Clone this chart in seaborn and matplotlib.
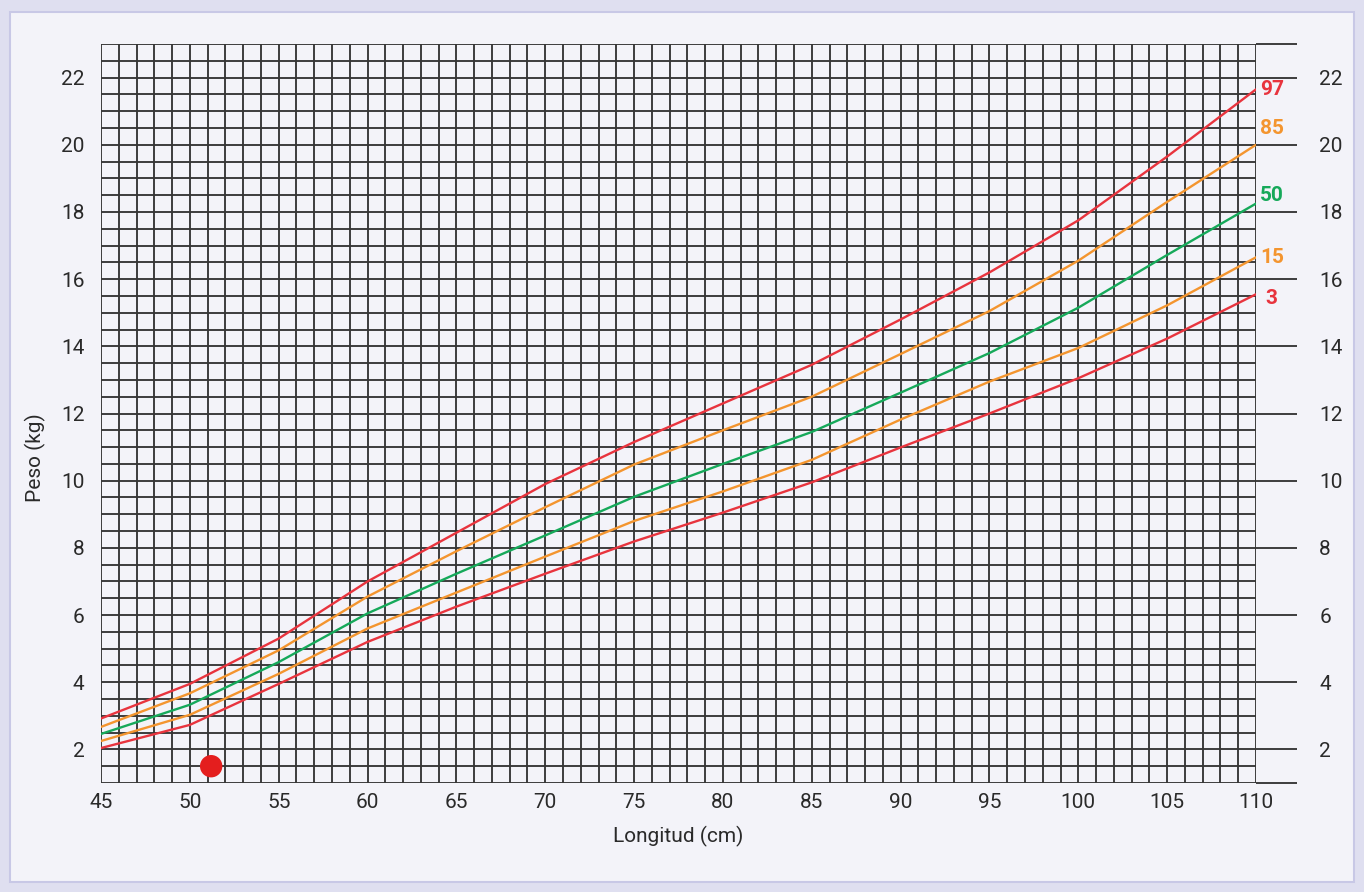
import matplotlib
matplotlib.use('Agg')
import matplotlib.pyplot as plt
import seaborn as sns
import pandas as pd
from matplotlib.patches import Rectangle

# longitud (cm) y percentiles de peso (kg)
longitud = [45, 50, 55, 60, 65, 70, 75, 80, 85, 90, 95, 100, 105, 110]
p97 = [2.92, 3.95, 5.30, 7.00, 8.45, 9.90, 11.15, 12.30, 13.45, 14.80, 16.20, 17.75, 19.65, 21.65]
p85 = [2.67, 3.67, 4.95, 6.55, 7.90, 9.21, 10.48, 11.50, 12.50, 13.77, 15.05, 16.55, 18.30, 20.00]
p50 = [2.46, 3.33, 4.60, 6.05, 7.23, 8.37, 9.52, 10.50, 11.45, 12.62, 13.80, 15.15, 16.72, 18.25]
p15 = [2.25, 3.03, 4.25, 5.60, 6.67, 7.74, 8.80, 9.68, 10.62, 11.82, 12.95, 13.95, 15.22, 16.65]
p3 = [2.04, 2.73, 3.95, 5.20, 6.25, 7.23, 8.19, 9.05, 9.95, 10.99, 12.00, 13.05, 14.23, 15.55]
percentiles = ['97', '85', '50', '15', '3']
colores = {'97': '#e8343e', '85': '#f3952f', '50': '#16a95a', '15': '#f3952f', '3': '#e8343e'}

# punto del paciente
punto_x = [51.2]
punto_y = [1.5]

df = pd.DataFrame({
    'longitud': longitud * 5,
    'peso': p97 + p85 + p50 + p15 + p3,
    'percentil': sum([[p] * len(longitud) for p in percentiles], []),
})

sns.set_style('white')
plt.rcParams['font.family'] = ['Roboto', 'DejaVu Sans']

fig = plt.figure(figsize=(13.64, 8.92), dpi=100, facecolor='#dfdff0')
fig.patches.append(Rectangle((10 / 1364, 10 / 892), 1344 / 1364, 870 / 892,
                             transform=fig.transFigure, facecolor='#f3f3f9',
                             edgecolor='#c8c8e6', linewidth=1.5, zorder=-10))
ax = fig.add_axes([101 / 1364, 1 - 783 / 892, 1155 / 1364, 739 / 892])
ax.set_facecolor('#f3f3f9')

# cuadrícula 1 cm x 0.5 kg
for x in range(45, 111):
    ax.axvline(x, color='#363636', lw=1.35, zorder=1)
for i in range(0, 45):
    ax.axhline(1 + i * 0.5, color='#363636', lw=1.35, zorder=1)

sns.lineplot(data=df, x='longitud', y='peso', hue='percentil', palette=colores,
             legend=False, linewidth=1.7, ax=ax, zorder=3)
sns.scatterplot(x=punto_x, y=punto_y, color='#e41e1e', s=260, edgecolor='none',
                ax=ax, zorder=4)

ax.set_xlim(45, 110)
ax.set_ylim(1, 23)
for s in ax.spines.values():
    s.set_visible(False)

txt = '#2a2a2a'
ax.set_xticks(range(45, 111, 5))
ax.set_yticks(range(2, 23, 2))
ax.tick_params(axis='both', length=0, labelsize=15, labelcolor=txt)
ax.tick_params(axis='x', pad=7)
ax.tick_params(axis='y', pad=12)
ax.set_xlabel('Longitud (cm)', fontsize=15, color=txt, labelpad=10)
ax.set_ylabel('Peso (kg)', fontsize=15, color=txt)
ax.yaxis.set_label_coords(-0.048, 0.44)

# marcas largas a la derecha
ax2 = ax.twinx()
ax2.set_ylim(1, 23)
ax2.set_yticks([1] + list(range(2, 23, 2)) + [23])
ax2.set_yticklabels([''] + [str(v) for v in range(2, 23, 2)] + [''])
ax2.tick_params(axis='y', length=29.5, width=1.35, color='#363636', pad=16,
                labelsize=15, labelcolor=txt)
for s in ax2.spines.values():
    s.set_visible(False)

# etiquetas de percentil
desplaz = {'97': 0, '85': 12, '50': 6, '15': 0, '3': -3}
dx = {'97': 3, '85': 3, '50': 3, '15': 3, '3': 7}
for p, vals in zip(percentiles, [p97, p85, p50, p15, p3]):
    ax.annotate(p, xy=(longitud[-1], vals[-1]), xytext=(dx[p], desplaz[p]),
                textcoords='offset points', ha='left', va='center',
                fontsize=15, fontweight='bold', color=colores[p])

plt.savefig('out.png', dpi=100, facecolor=fig.get_facecolor())
